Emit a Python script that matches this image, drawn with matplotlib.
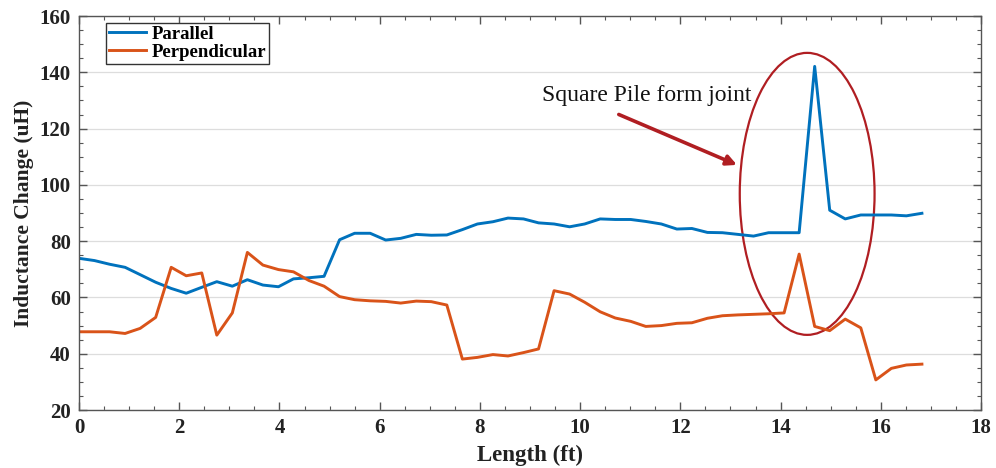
import matplotlib
matplotlib.use("Agg")
import matplotlib.pyplot as plt
from matplotlib.patches import Ellipse
from matplotlib.ticker import MultipleLocator

# length along the pile (ft)
length_ft = [0.00, 0.31, 0.61, 0.92, 1.22, 1.53, 1.84, 2.14, 2.45, 2.75,
             3.06, 3.36, 3.67, 3.98, 4.28, 4.59, 4.89, 5.20, 5.50, 5.81,
             6.12, 6.42, 6.73, 7.03, 7.34, 7.65, 7.95, 8.26, 8.56, 8.87,
             9.17, 9.48, 9.79, 10.09, 10.40, 10.70, 11.01, 11.31, 11.62, 11.93,
             12.23, 12.54, 12.84, 13.15, 13.46, 13.76, 14.07, 14.37, 14.68, 14.98,
             15.29, 15.60, 15.90, 16.21, 16.51, 16.82]

parallel = [73.9, 73.1, 71.8, 70.7, 68.1, 65.4, 63.2, 61.5, 63.6, 65.6,
            64.0, 66.3, 64.4, 63.8, 66.6, 67.0, 67.5, 80.5, 82.8, 82.8,
            80.4, 81.0, 82.4, 82.1, 82.2, 84.1, 86.1, 86.9, 88.2, 87.9,
            86.5, 86.1, 85.1, 86.1, 87.9, 87.7, 87.7, 87.0, 86.1, 84.3,
            84.5, 83.1, 83.0, 82.4, 81.8, 83.0, 83.0, 83.0, 142.1, 91.0,
            87.9, 89.3, 89.3, 89.3, 89.0, 89.9]

perpendicular = [47.8, 47.8, 47.8, 47.2, 49.0, 52.9, 70.7, 67.7, 68.7, 46.6,
                 54.5, 76.0, 71.5, 69.9, 69.1, 66.0, 64.0, 60.3, 59.2, 58.8,
                 58.6, 58.0, 58.7, 58.5, 57.3, 38.1, 38.7, 39.7, 39.2, 40.4,
                 41.7, 62.4, 61.2, 58.3, 54.9, 52.7, 51.5, 49.7, 50.0, 50.8,
                 51.0, 52.6, 53.5, 53.8, 54.0, 54.2, 54.5, 75.4, 49.7, 48.2,
                 52.3, 49.2, 30.7, 34.8, 36.0, 36.3]

serif = ["Liberation Serif", "DejaVu Serif"]
edge = "#555555"
red = "#B01E22"

fig = plt.figure(figsize=(9.96, 4.68), dpi=100)
ax = fig.add_axes([0.0793, 0.1239, 0.9057, 0.8419])

ax.plot(length_ft, parallel, color="#0072BD", lw=2.1, label="Parallel")
ax.plot(length_ft, perpendicular, color="#D95319", lw=2.1, label="Perpendicular")

ax.set_xlim(0, 18)
ax.set_ylim(20, 160)
ax.xaxis.set_major_locator(MultipleLocator(2))
ax.xaxis.set_minor_locator(MultipleLocator(0.5))
ax.yaxis.set_major_locator(MultipleLocator(20))
ax.yaxis.set_minor_locator(MultipleLocator(5))
ax.grid(axis="y", which="major", color="#dddddd", lw=0.9)
ax.set_axisbelow(True)

ax.tick_params(which="both", direction="in", top=True, right=True, colors=edge)
ax.tick_params(which="major", length=6, width=1.0, labelcolor="#222222", pad=6)
ax.tick_params(which="minor", length=3, width=0.8)
for lab in ax.get_xticklabels() + ax.get_yticklabels():
    lab.set_family(serif)
    lab.set_fontweight("bold")
    lab.set_fontsize(15)
for s in ax.spines.values():
    s.set_color(edge)
    s.set_linewidth(1.0)

ax.set_xlabel("Length (ft)", family=serif, fontweight="bold", fontsize=16.5,
              color="#222222", labelpad=5)
ax.set_ylabel("Inductance Change (uH)", family=serif, fontweight="bold",
              fontsize=15.5, color="#222222", labelpad=4)

leg = ax.legend(loc="upper left", bbox_to_anchor=(0.030, 0.983),
                prop={"family": serif, "weight": "bold", "size": 13.5},
                handlelength=2.0, handletextpad=0.3, borderpad=0.15,
                labelspacing=0.05, fancybox=False, framealpha=1,
                borderaxespad=0)
leg.get_frame().set_edgecolor("#333333")
leg.get_frame().set_linewidth(1.0)

# annotation: ellipse around the joint and arrow
ax.add_patch(Ellipse((14.53, 96.8), 2.69, 100.2, fill=False,
                     edgecolor=red, lw=1.6))
ax.annotate("", xy=(13.18, 106.7), xytext=(10.72, 125.4),
            arrowprops=dict(arrowstyle="-|>", color=red, lw=2.6,
                            mutation_scale=15))
ax.text(9.24, 129.9, "Square Pile form joint", family=serif, fontsize=17,
        color="#111111", va="baseline", ha="left")

fig.savefig("out.png", dpi=100)
